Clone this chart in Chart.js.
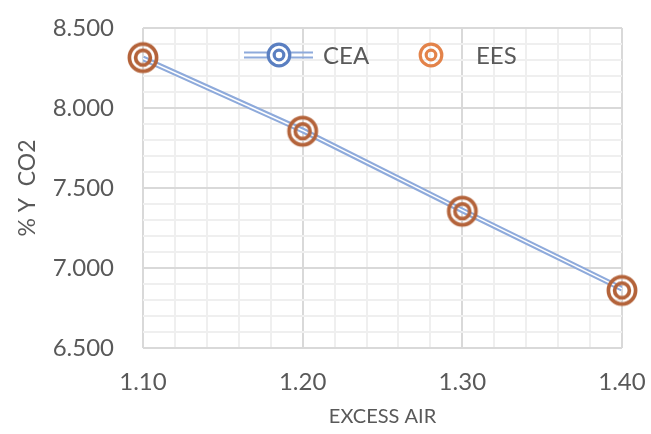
<!DOCTYPE html>
<html>
<head>
<meta charset="utf-8">
<script src="https://cdn.jsdelivr.net/npm/chart.js@4.4.1/dist/chart.umd.min.js"></script>
<style>
    html, body { margin: 0; padding: 0; background: #ffffff; }
    #wrap { width: 651px; height: 434px; position: relative; }
</style>
</head>
<body>
<div id="wrap"><canvas id="chart"></canvas></div>
<script>
// Data
const excessAir = [1.10, 1.20, 1.30, 1.40];
const ceaValues = [8.31, 7.86, 7.36, 6.87];
const eesValues = [8.315, 7.855, 7.355, 6.86];
const seriesNames = ['CEA', 'EES'];

const TEXT = '#595959';
const FONT = 'Lato';
const BLUE_LINE = '#8eaadb';
const BLUE_MARK = '#5a7fc1';
const BROWN_MARK = '#b4633a';
const ORANGE_MARK = '#e3834a';
const GRID_MAJOR = '#d9d9d9';
const GRID_MINOR = '#efefef';

// "target" marker: ring + inner ring drawn onto a small canvas
function makeTarget(size, outerR, innerR, width, color) {
    const c = document.createElement('canvas');
    c.width = size;
    c.height = size;
    const g = c.getContext('2d');
    g.strokeStyle = color;
    g.lineWidth = width;
    g.beginPath();
    g.arc(size / 2, size / 2, outerR, 0, Math.PI * 2);
    g.stroke();
    g.beginPath();
    g.arc(size / 2, size / 2, innerR, 0, Math.PI * 2);
    g.stroke();
    return c;
}

const plotMarker = makeTarget(34, 13.6, 7.4, 3.7, BROWN_MARK);

function toPoints(xs, ys) {
    return xs.map((x, i) => ({ x: x, y: ys[i] }));
}

function isMultiple(v, step) {
    const r = v / step;
    return Math.abs(r - Math.round(r)) < 1e-6;
}

// legend drawn inside the plot, top centre
const legendPlugin = {
    id: 'insideLegend',
    afterDraw(chart) {
        const ctx = chart.ctx;
        const y = 55;
        ctx.save();
        // CEA: double line + blue target
        ctx.strokeStyle = BLUE_LINE;
        ctx.lineWidth = 2;
        [-2.5, 2.5].forEach(off => {
            ctx.beginPath();
            ctx.moveTo(244, y + off);
            ctx.lineTo(313, y + off);
            ctx.stroke();
        });
        ctx.fillStyle = '#ffffff';
        ctx.beginPath();
        ctx.arc(279, y, 11, 0, Math.PI * 2);
        ctx.fill();
        ctx.drawImage(makeTarget(28, 10.8, 4.8, 3.2, BLUE_MARK), 279 - 14, y - 14);
        // EES: orange target only
        ctx.drawImage(makeTarget(28, 10.8, 4.8, 3.2, ORANGE_MARK), 431 - 14, y - 14);

        ctx.fillStyle = TEXT;
        ctx.font = '24px ' + FONT;
        ctx.textBaseline = 'middle';
        ctx.textAlign = 'left';
        ctx.fillText(seriesNames[0], 323, y + 1);
        ctx.fillText(seriesNames[1], 476, y + 1);
        ctx.restore();
    }
};

const ctx = document.getElementById('chart').getContext('2d');

new Chart(ctx, {
    type: 'line',
    data: {
        datasets: [
            {
                label: seriesNames[1],
                data: toPoints(excessAir, eesValues),
                showLine: false,
                pointStyle: plotMarker,
                pointRadius: 17,
                clip: false,
                order: 0
            },
            {
                label: 'gap',
                data: toPoints(excessAir, ceaValues),
                borderColor: '#ffffff',
                borderWidth: 1.6,
                pointRadius: 0,
                order: 1
            },
            {
                label: seriesNames[0],
                data: toPoints(excessAir, ceaValues),
                borderColor: BLUE_LINE,
                borderWidth: 5.6,
                pointRadius: 0,
                order: 2
            }
        ]
    },
    options: {
        responsive: true,
        maintainAspectRatio: false,
        animation: false,
        devicePixelRatio: 1,
        layout: { padding: { left: 0, right: 29, top: 28, bottom: 0 } },
        plugins: {
            legend: { display: false },
            tooltip: { enabled: false }
        },
        scales: {
            x: {
                type: 'linear',
                min: 1.1,
                max: 1.4,
                border: { display: false },
                grid: {
                    drawTicks: false,
                    lineWidth: 2,
                    color: c => isMultiple(c.tick.value, 0.1) ? GRID_MAJOR : GRID_MINOR
                },
                ticks: {
                    stepSize: 0.02,
                    autoSkip: false,
                    maxRotation: 0,
                    padding: 20,
                    color: TEXT,
                    font: { family: FONT, size: 24 },
                    callback: v => isMultiple(v, 0.1) ? v.toFixed(2) : ''
                },
                title: {
                    display: true,
                    text: 'EXCESS AIR',
                    color: TEXT,
                    font: { family: FONT, size: 20 },
                    padding: { top: 0, bottom: 5 }
                },
                afterFit(scale) {
                    scale.height = 86;
                    scale.paddingLeft = 0;
                    scale.paddingRight = 0;
                }
            },
            y: {
                min: 6.5,
                max: 8.5,
                border: { display: false },
                grid: {
                    drawTicks: false,
                    lineWidth: 2,
                    color: c => isMultiple(c.tick.value, 0.5) ? GRID_MAJOR : GRID_MINOR
                },
                ticks: {
                    stepSize: 0.1,
                    autoSkip: false,
                    padding: 29,
                    color: TEXT,
                    font: { family: FONT, size: 24 },
                    callback: v => isMultiple(v, 0.5) ? v.toFixed(3) : ''
                },
                title: {
                    display: true,
                    text: '% Y  CO2',
                    color: TEXT,
                    font: { family: FONT, size: 23 },
                    padding: { top: 14, bottom: 0 }
                },
                afterFit(scale) {
                    scale.width = 143;
                    scale.paddingTop = 0;
                    scale.paddingBottom = 0;
                }
            }
        }
    },
    plugins: [legendPlugin]
});
</script>
</body>
</html>
